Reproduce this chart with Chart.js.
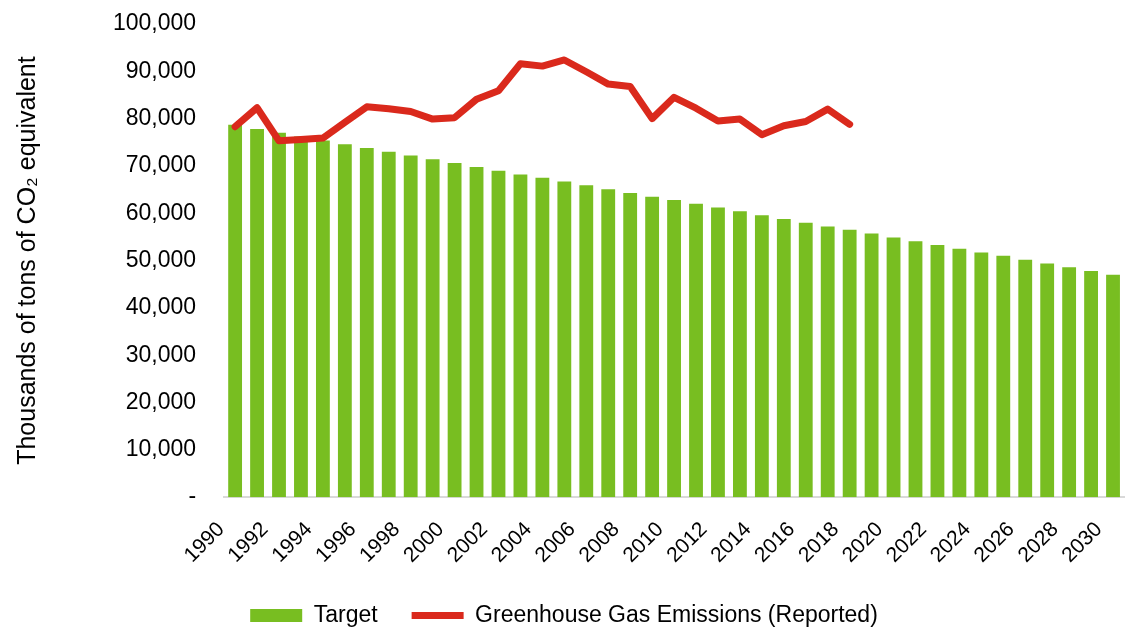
<!DOCTYPE html>
<html>
<head>
<meta charset="utf-8">
<script src="https://cdn.jsdelivr.net/npm/chart.js@4"></script>
<style>
  html, body { margin: 0; padding: 0; background: #fff; }
  #wrap { width: 1128px; height: 627px; }
</style>
</head>
<body>
<div id="wrap"><canvas id="myChart" width="1128" height="627"></canvas></div>
<script>
// Data
const years = [];
for (let y = 1990; y <= 2030; y++) years.push(String(y));

const target = [78700, 77800, 77000, 76200, 75400, 74600, 73800, 73000, 72200, 71400,
  70600, 69800, 69000, 68200, 67500, 66700, 65900, 65100, 64300, 63500,
  62800, 62000, 61200, 60400, 59600, 58800, 58000, 57200, 56500, 55700,
  54900, 54100, 53300, 52500, 51700, 51000, 50200, 49400, 48600, 47800, 47000];

const reported = [78300, 82300, 75300, 75600, 75900, 79200, 82500, 82100, 81500, 79900,
  80200, 84100, 85900, 91600, 91100, 92400, 89900, 87300, 86800, 80000,
  84500, 82200, 79500, 79900, 76600, 78500, 79400, 82000, 78800];

const yTicks = [0, 10000, 20000, 30000, 40000, 50000, 60000, 70000, 80000, 90000, 100000];

const green = '#78BE21';
const red = '#DA291C';
const fontFam = '"Liberation Sans", Arial, sans-serif';

const config = {
  type: 'bar',
  data: {
    labels: years,
    datasets: [{
      label: 'Target',
      data: target,
      backgroundColor: green,
      borderWidth: 0,
      barPercentage: 0.63,
      categoryPercentage: 1,
      pointStyle: 'rect',
      order: 1
    }, {
      type: 'line',
      label: 'Greenhouse Gas Emissions (Reported)',
      data: reported,
      borderColor: red,
      backgroundColor: red,
      borderWidth: 7,
      borderCapStyle: 'round',
      borderJoinStyle: 'round',
      pointRadius: 0,
      tension: 0,
      pointStyle: 'line',
      order: 0
    }]
  },
  options: {
    responsive: false,
    animation: false,
    layout: { padding: { top: 24, right: 0, bottom: -10, left: 0 } },
    scales: {
      x: {
        // tick marks hidden, tickLength only used as spacing
        grid: { display: false, drawTicks: true, tickLength: 18 },
        border: { display: true, color: '#d9d9d9', width: 2 },
        afterFit: function(scale) {
          scale.paddingRight = 4;
        },
        ticks: {
          autoSkip: false,
          minRotation: 45,
          maxRotation: 45,
          padding: 2,
          labelOffset: -14,
          color: '#000',
          font: { family: fontFam, size: 21 },
          callback: function(val, idx) {
            return idx % 2 === 0 ? this.getLabelForValue(val) : '';
          }
        }
      },
      y: {
        min: 0,
        max: 100000,
        grid: { display: false, drawTicks: true, tickLength: 20 },
        border: { display: false },
        afterBuildTicks: function(scale) {
          scale.ticks = yTicks.map(v => ({ value: v }));
        },
        ticks: {
          padding: 8,
          color: '#000',
          font: { family: fontFam, size: 23 },
          callback: function(v) {
            return v === 0 ? '-' : v.toLocaleString('en-US');
          }
        },
        title: {
          display: true,
          text: 'Thousands of tons of CO\u2082 equivalent',
          color: '#000',
          font: { family: fontFam, size: 25 },
          padding: { top: 13, bottom: 62 }
        }
      }
    },
    plugins: {
      legend: {
        position: 'bottom',
        labels: {
          sort: (a, b) => a.datasetIndex - b.datasetIndex,
          usePointStyle: true,
          pointStyleWidth: 52,
          boxHeight: 13,
          padding: 34,
          color: '#000',
          font: { family: fontFam, size: 23 }
        }
      },
      tooltip: { enabled: false }
    }
  }
};

const myChart = new Chart(document.getElementById('myChart'), config);
</script>
</body>
</html>
